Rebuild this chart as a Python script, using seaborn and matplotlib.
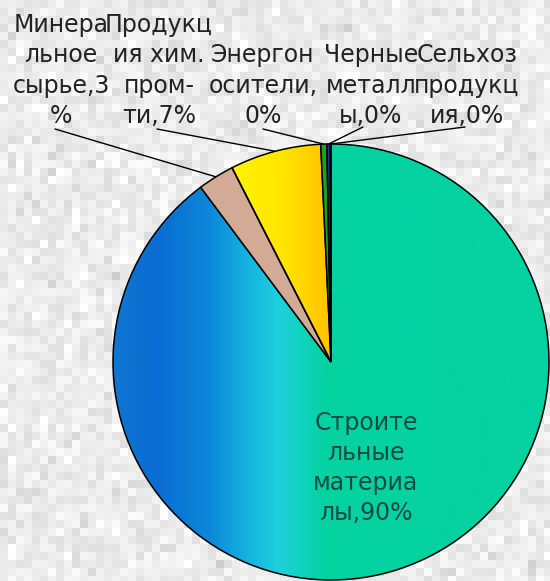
import numpy as np
import seaborn as sns
import matplotlib.pyplot as plt
from matplotlib.colors import LinearSegmentedColormap

# данные
categories = ["Строительные материалы", "Минеральное сырье", "Продукция хим. пром-ти",
              "Энергоносители", "Черные металлы", "Сельхозпродукция"]
shares = [89.8, 2.7, 6.75, 0.45, 0.25, 0.05]
label_templates = ["Строите\nльные\nматериа\nлы,{:.0f}%",
                   "Минера\nльное\nсырье,{:.0f}\n%",
                   "Продукц\nия хим.\nпром-\nти,{:.0f}%",
                   "Энергон\nосители,\n{:.0f}%",
                   "Черные\nметалл\nы,{:.0f}%",
                   "Сельхоз\nпродукц\nия,{:.0f}%"]
slice_colors = ["#05d2a0", "#d3aa95", "#ffe000", "#1fa01f", "#1e3c96", "#9a9a9a"]

sns.set_style("white")
plt.rcParams['font.family'] = ['DejaVu Sans']

W, H = 550, 581
CX, CY, R = 331, 362, 218   # центр и радиус круга в пикселях


def px(x, y):
    return (x - CX) / R, (CY - y) / R


fig = plt.figure(figsize=(W / 100, H / 100), dpi=100)

# серый "пиксельный" фон
rng = np.random.default_rng(7)
blocks = np.clip(0.925 + 0.035 * rng.standard_normal((H // 8 + 1, W // 8 + 1)), 0.8, 1.0)
texture = np.kron(blocks, np.ones((8, 8)))[:H, :W]
fig.figimage(texture, cmap="gray", vmin=0, vmax=1, zorder=-5)

ax = fig.add_axes([0, 0, 1, 1], zorder=2)
ax.patch.set_alpha(0)

wedges, _ = ax.pie(shares, colors=slice_colors, startangle=90, counterclock=False,
                   radius=1, wedgeprops=dict(edgecolor="black", linewidth=1.1))

# градиент для большого сектора
big_cmap = LinearSegmentedColormap.from_list("big", [
    (0.0, "#1076d2"), (0.1, "#0a6cd2"), (0.22, "#0c88da"), (0.32, "#17b8e0"),
    (0.38, "#1dd0dc"), (0.43, "#12d4c2"), (0.48, "#05d2a2"), (1.0, "#05d2a0")])
grad = np.linspace(0, 1, 512).reshape(1, -1)
im = ax.imshow(grad, extent=(-1, 1, -1, 1), cmap=big_cmap, aspect="auto", zorder=0.5)
im.set_clip_path(wedges[0])
wedges[0].set_facecolor("none")

yel_cmap = LinearSegmentedColormap.from_list("yel", ["#fff400", "#ffe600", "#ffc000"])
im2 = ax.imshow(grad, extent=(-0.46, 0.0, 0, 1), cmap=yel_cmap, aspect="auto", zorder=0.5)
im2.set_clip_path(wedges[2])
wedges[2].set_facecolor("none")

# подписи
top_pos = [(61, 128), (159, 128), (263, 128), (371, 128), (467, 128)]
line_start = [(55, 129), (157, 129), (263, 129), (363, 127), (465, 127)]
for i in range(1, 6):
    x, y = px(*top_pos[i - 1])
    ax.text(x, y, label_templates[i].format(shares[i]), ha="center", va="bottom",
            multialignment="center", fontsize=17, linespacing=1.33, color="#222222")
    w = wedges[i]
    mid = np.deg2rad((w.theta1 + w.theta2) / 2)
    sx, sy = px(*line_start[i - 1])
    ax.plot([sx, np.cos(mid)], [sy, np.sin(mid)], color="black", lw=1.0, zorder=3)

ix, iy = px(366, 468)
ax.text(ix, iy, label_templates[0].format(shares[0]), ha="center", va="center",
        multialignment="center", fontsize=17, linespacing=1.33, color="#124a42")

ax.set_xlim(-CX / R, (W - CX) / R)
ax.set_ylim(-(H - CY) / R, CY / R)
ax.axis("off")

fig.savefig("out.png", dpi=100)
